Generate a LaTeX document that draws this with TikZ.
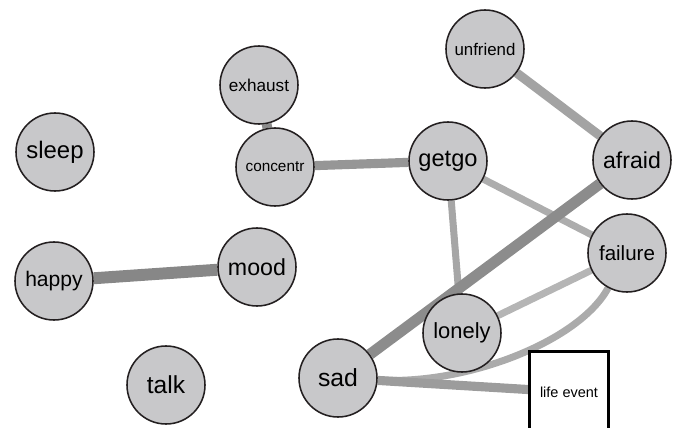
\documentclass[tikz,border=0pt]{standalone}
\usepackage{fontspec}
\setmainfont{Liberation Sans}
\usetikzlibrary{backgrounds}
\definecolor{nodegray}{HTML}{C8C8CA}
\definecolor{rim}{HTML}{231F20}

\begin{document}
\begin{tikzpicture}[x=0.025cm,y=-0.025cm,
    symptom/.style={circle,draw=rim,line width=1.1pt,fill=nodegray,minimum size=1.95cm,inner sep=0pt,font=\fontsize{#1}{#1}\selectfont},
    event/.style={rectangle,draw=black,line width=2.1pt,fill=white,minimum width=1.97cm,minimum height=2.02cm,inner sep=0pt,font=\fontsize{10.3}{12}\selectfont},
    link/.style={line width=#1}]
        \useasboundingbox (0,0) rectangle (680,428);
        \clip (0,0) rectangle (680,428);
        \node[symptom=17] (sleep) at (55,152) {sleep};
        \node[symptom=15] (happy) at (54,281) {happy};
        \node[symptom=16.5] (mood) at (257,267) {mood};
        \node[symptom=17.5] (talk) at (166,385) {talk};
        \node[symptom=12.2] (exhaust) at (259,85) {exhaust};
        \node[symptom=10.9] (concentr) at (275,167) {concentr};
        \node[symptom=16.8] (getgo) at (448,161) {getgo};
        \node[symptom=12] (unfriend) at (485,49) {unfriend};
        \node[symptom=16.4] (afraid) at (632,160) {afraid};
        \node[symptom=14.6] (failure) at (627,253) {failure};
        \node[symptom=15.6] (lonely) at (462,333) {lonely};
        \node[symptom=17.6] (sad) at (338,378) {sad};
        \node[event] (life) at (569,392) {life event};
        \begin{scope}[on background layer]
            \draw[link=8.5pt,color=black!47] (happy) -- (mood);
            \draw[link=7pt,color=black!45] (exhaust) -- (concentr);
            \draw[link=6.5pt,color=black!41] (concentr) -- (getgo);
            \draw[link=6.5pt,color=black!36] (unfriend) -- (afraid);
            \draw[link=5pt,color=black!32] (getgo) -- (failure);
            \draw[link=5pt,color=black!35] (getgo) -- (lonely);
            \draw[link=7.8pt,color=black!45] (afraid) -- (sad);
            \draw[link=5pt,color=black!29] (lonely) -- (failure);
            \draw[link=5pt,color=black!33] (sad) .. controls (470,385) and (580,340) .. (failure);
            \draw[link=6.5pt,color=black!39] (sad) -- (life);
        \end{scope}
\end{tikzpicture}
\end{document}
